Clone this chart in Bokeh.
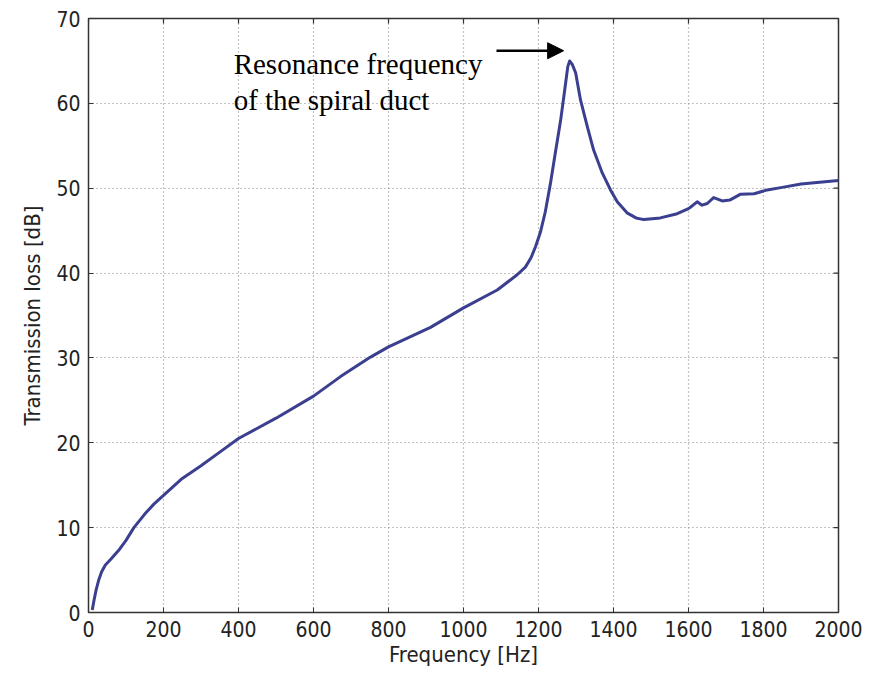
import math
from bokeh.plotting import figure
from bokeh.models import Range1d, FixedTicker, Arrow, NormalHead, ColumnDataSource
from bokeh.core.properties import value
from bokeh.embed import file_html
from bokeh.resources import INLINE

# Data
freq_hz = [10, 15, 20, 27, 35, 45, 60, 80, 100, 121, 150, 175, 200, 250, 300, 350, 400, 500, 600,
           672, 752, 800, 912, 1000, 1090, 1143, 1165, 1180, 1192, 1205, 1218, 1232, 1245,
           1259, 1270, 1278, 1283, 1290, 1299, 1312, 1330, 1347, 1370, 1392, 1410, 1436,
           1460, 1481, 1525, 1570, 1600, 1612, 1623, 1636, 1650, 1667, 1690, 1710, 1739,
           1775, 1810, 1850, 1900, 1950, 2000]
loss_db = [0.3, 1.5, 2.6, 3.8, 4.8, 5.6, 6.3, 7.3, 8.5, 10.0, 11.6, 12.8, 13.8, 15.8, 17.3, 18.9, 20.5, 22.9, 25.5,
           27.8, 30.1, 31.3, 33.6, 35.9, 38.0, 39.8, 40.7, 41.8, 43.1, 44.8, 47.2, 50.6, 54.2,
           58.0, 61.6, 64.3, 65.0, 64.6, 63.6, 60.4, 57.3, 54.5, 51.8, 49.8, 48.4, 47.1,
           46.5, 46.3, 46.5, 47.0, 47.6, 48.0, 48.4, 48.0, 48.2, 48.9, 48.5, 48.6, 49.3,
           49.35, 49.8, 50.1, 50.5, 50.7, 50.9]
x_ticks = [0, 200, 400, 600, 800, 1000, 1200, 1400, 1600, 1800, 2000]
y_ticks = [0, 10, 20, 30, 40, 50, 60, 70]
note_lines = ["Resonance frequency", "of the spiral duct"]

p = figure(width=879, height=678, output_backend="svg", toolbar_location=None,
           x_range=Range1d(x_ticks[0], x_ticks[-1]), y_range=Range1d(y_ticks[0], y_ticks[-1]),
           min_border_left=88, min_border_right=41, min_border_top=18, min_border_bottom=66)
p.background_fill_color = "white"
p.border_fill_color = "white"
p.outline_line_color = "#333333"
p.outline_line_width = 1.5

p.grid.grid_line_color = "#888888"
p.grid.grid_line_dash = "1 3"
p.grid.grid_line_width = 1.2
p.xgrid.ticker = FixedTicker(ticks=x_ticks)
p.ygrid.ticker = FixedTicker(ticks=y_ticks)

# inward ticks on top and right edges (frame clips the outer half)
p.scatter(x_ticks, [y_ticks[-1]] * len(x_ticks), marker="dash", angle=math.pi / 2,
          size=10, line_color="#333333", line_width=1.2)
p.scatter([x_ticks[-1]] * len(y_ticks), y_ticks, marker="dash",
          size=10, line_color="#333333", line_width=1.2)

p.line(freq_hz, loss_db, line_color="#3b3f8f", line_width=3, line_join="round")

for ax, ticks in ((p.xaxis[0], x_ticks), (p.yaxis[0], y_ticks)):
    ax.ticker = FixedTicker(ticks=ticks)
    ax.major_tick_in = 5
    ax.major_tick_out = 0
    ax.minor_tick_line_color = None
    ax.axis_line_color = "#333333"
    ax.major_tick_line_color = "#333333"
    ax.major_label_text_font = "DejaVu Sans Condensed"
    ax.major_label_text_font_size = "21px"
    ax.major_label_text_color = "#222222"
    ax.axis_label_text_font = "DejaVu Sans Condensed"
    ax.axis_label_text_font_size = "22px"
    ax.axis_label_text_font_style = "normal"
    ax.axis_label_text_color = "#222222"

p.xaxis.axis_label = "Frequency [Hz]"
p.yaxis.axis_label = "Transmission loss [dB]"
p.xaxis.major_label_standoff = 8
p.xaxis.axis_label_standoff = 2
p.yaxis.major_label_standoff = 8
p.yaxis.axis_label_standoff = 8

# annotation
src = ColumnDataSource(dict(x=[387, 387], y=[64.6, 60.45], t=note_lines))
p.text(x="x", y="y", text="t", source=src, text_font=value("Liberation Serif"),
       text_font_size="29px", text_color="black", text_baseline="alphabetic", text_align="left")
p.add_layout(Arrow(x_start=1088, y_start=66.2, x_end=1267, y_end=66.2,
                   line_color="black", line_width=2.5,
                   end=NormalHead(size=16, fill_color="black", line_color="black")))

open("out.html", "w").write(file_html(p, INLINE))
